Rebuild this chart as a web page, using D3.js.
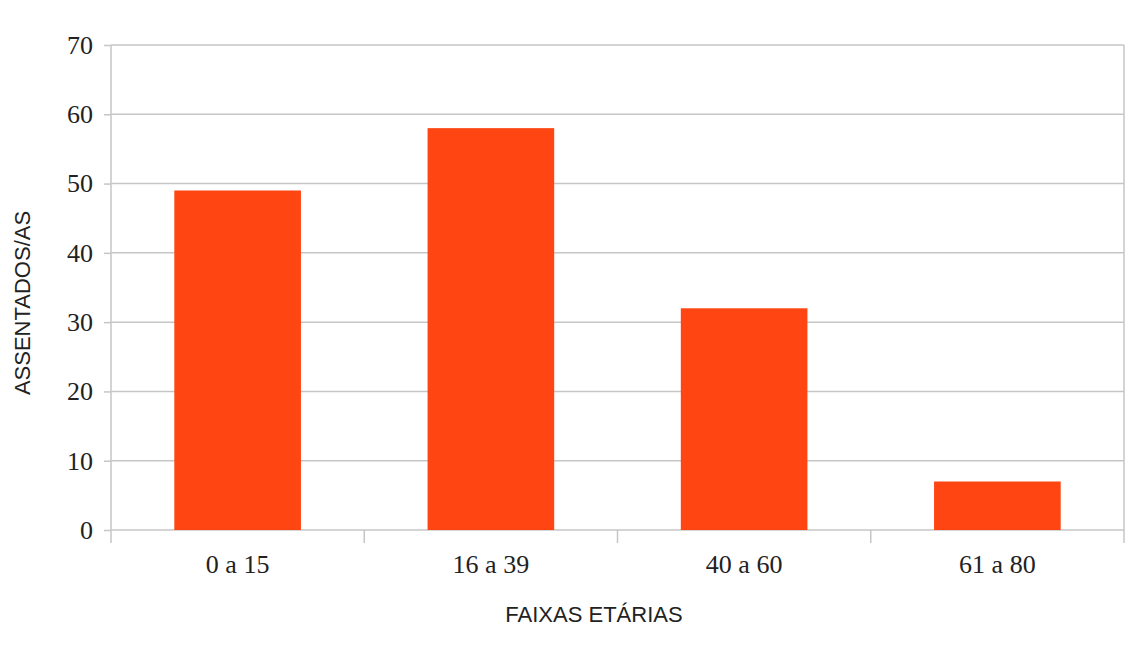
<!DOCTYPE html>
<html>
<head>
<meta charset="utf-8">
<script src="https://cdn.jsdelivr.net/npm/d3@7"></script>
<style>
  body { margin: 0; background: #fff; }
  .tick text { font-family: 'Liberation Serif', serif; font-size: 26px; fill: #222; }
  .title { font-family: 'Liberation Sans', Arial, sans-serif; font-size: 22px; fill: #222; }
</style>
</head>
<body>
<div id="chart"></div>
<script>
const categories = ['0 a 15', '16 a 39', '40 a 60', '61 a 80'];
const values = [49, 58, 32, 7];
const yTicks = [0, 10, 20, 30, 40, 50, 60, 70];

const width = 1136;
const height = 664;
const margin = { top: 45, right: 12, bottom: 134, left: 111 };
const innerW = width - margin.left - margin.right;
const innerH = height - margin.top - margin.bottom;

const svg = d3.select('#chart')
  .append('svg')
  .attr('width', width)
  .attr('height', height);

const g = svg.append('g')
  .attr('transform', `translate(${margin.left},${margin.top})`);

const x = d3.scaleBand()
  .domain(categories)
  .range([0, innerW])
  .paddingInner(0.5)
  .paddingOuter(0.25);

const y = d3.scaleLinear()
  .domain([0, 70])
  .range([innerH, 0]);

// grid lines
g.selectAll('line.grid')
  .data(yTicks)
  .enter()
  .append('line')
  .attr('class', 'grid')
  .attr('x1', 0)
  .attr('x2', innerW)
  .attr('y1', (d) => y(d))
  .attr('y2', (d) => y(d))
  .attr('stroke', '#c6c6c6')
  .attr('stroke-width', 1.5);

// left and right frame lines
g.append('line')
  .attr('x1', 0).attr('x2', 0)
  .attr('y1', 0).attr('y2', innerH)
  .attr('stroke', '#c6c6c6').attr('stroke-width', 1.5);
g.append('line')
  .attr('x1', innerW).attr('x2', innerW)
  .attr('y1', 0).attr('y2', innerH)
  .attr('stroke', '#c6c6c6').attr('stroke-width', 1.5);

// bars
g.selectAll('rect.bar')
  .data(values)
  .enter()
  .append('rect')
  .attr('class', 'bar')
  .attr('x', (d, i) => x(categories[i]))
  .attr('y', (d) => y(d))
  .attr('width', x.bandwidth())
  .attr('height', (d) => innerH - y(d))
  .attr('fill', '#ff4511');

// y axis
const yAxis = g.append('g')
  .call(d3.axisLeft(y).tickValues(yTicks).tickSize(7).tickPadding(11));
yAxis.select('.domain').remove();
yAxis.selectAll('.tick line').attr('stroke', '#c6c6c6').attr('stroke-width', 1.5);

// x axis: ticks at category boundaries
const step = x.step();
const boundaries = d3.range(categories.length + 1).map((i) => i * step);
const xAxis = g.append('g')
  .attr('transform', `translate(0,${innerH})`);
xAxis.selectAll('line.btick')
  .data(boundaries)
  .enter()
  .append('line')
  .attr('x1', (d) => d).attr('x2', (d) => d)
  .attr('y1', 0).attr('y2', 13)
  .attr('stroke', '#c6c6c6').attr('stroke-width', 1.5);
xAxis.selectAll('g.tick')
  .data(categories)
  .enter()
  .append('g')
  .attr('class', 'tick')
  .attr('transform', (d) => `translate(${x(d) + x.bandwidth() / 2},0)`)
  .append('text')
  .attr('y', 43)
  .attr('text-anchor', 'middle')
  .text((d) => d);

// axis titles
svg.append('text')
  .attr('class', 'title')
  .attr('x', 594)
  .attr('y', 622)
  .attr('text-anchor', 'middle')
  .text('FAIXAS ETÁRIAS');

svg.append('text')
  .attr('class', 'title')
  .attr('transform', 'translate(30,303) rotate(-90)')
  .attr('text-anchor', 'middle')
  .text('ASSENTADOS/AS');
</script>
</body>
</html>
